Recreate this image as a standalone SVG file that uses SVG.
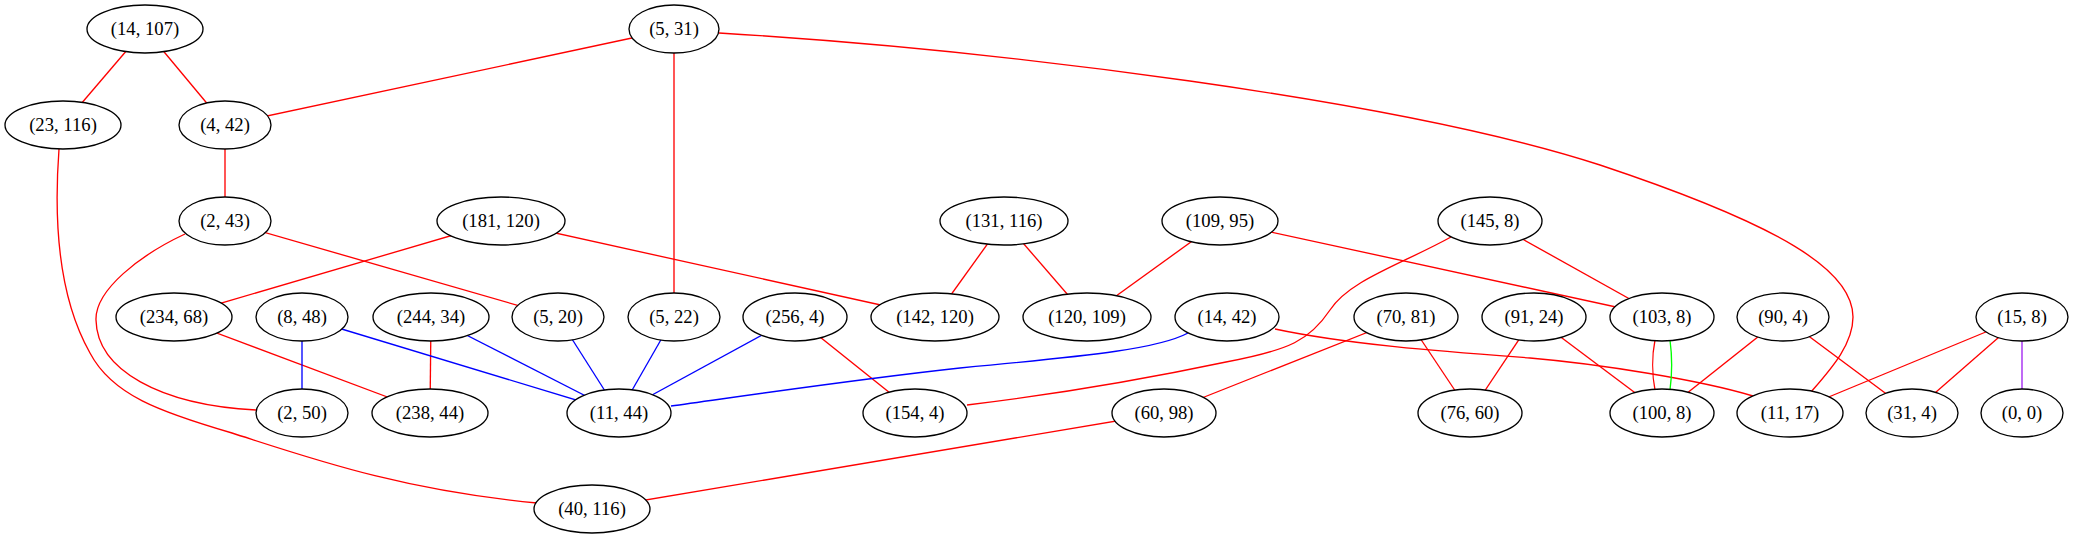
<svg xmlns="http://www.w3.org/2000/svg" width="2073" height="539" viewBox="0 0 2073 539">
<style>
.n ellipse{fill:#fff;stroke:#000;stroke-width:1.33}
.n text{font-family:"Liberation Serif","Times New Roman",serif;font-size:18.67px;text-anchor:middle;fill:#000}
#edges path,#edges line{fill:none;stroke-width:1.33}
.r{stroke:#ff0000}
.b{stroke:#0000ff}
.g{stroke:#00ff00}
.p{stroke:#a020f0}
</style>
<rect width="2073" height="539" fill="#fff"/>
<g id="edges">
<line class="r" x1="145" y1="29" x2="63" y2="125"/>
<line class="r" x1="145" y1="29" x2="225" y2="125"/>
<line class="r" x1="674" y1="29" x2="225" y2="125"/>
<line class="r" x1="674" y1="29" x2="674" y2="317"/>
<path class="r" d="M719,33 C1000,50 1400,100 1600,165 C1780,225 1853,270 1853,317 C1853,345 1830,370 1811,392"/>
<line class="r" x1="225" y1="125" x2="225" y2="221"/>
<path class="r" d="M59,149 C53,230 60,300 90,353 C112,395 160,412 232,433 C310,458 400,490 537,503"/>
<path class="r" d="M185,234 C140,255 95,290 96,320 C97,370 160,405 256,410"/>
<line class="r" x1="225" y1="221" x2="558" y2="317"/>
<line class="r" x1="501" y1="221" x2="174" y2="317"/>
<line class="r" x1="501" y1="221" x2="935" y2="317"/>
<line class="r" x1="1004" y1="221" x2="935" y2="317"/>
<line class="r" x1="1004" y1="221" x2="1087" y2="317"/>
<line class="r" x1="1220" y1="221" x2="1087" y2="317"/>
<line class="r" x1="1220" y1="221" x2="1662" y2="317"/>
<path class="r" d="M1451,237 C1400,265 1350,280 1330,310 C1310,340 1290,350 1226,362 C1150,378 1050,395 967,405"/>
<line class="r" x1="1490" y1="221" x2="1662" y2="317"/>
<line class="r" x1="174" y1="317" x2="430" y2="413"/>
<line class="r" x1="431" y1="317" x2="430" y2="413"/>
<line class="r" x1="795" y1="317" x2="915" y2="413"/>
<path class="r" d="M1275,329 C1350,345 1450,352 1530,358 C1600,364 1700,380 1753,396"/>
<line class="r" x1="1406" y1="317" x2="1164" y2="413"/>
<line class="r" x1="1406" y1="317" x2="1470" y2="413"/>
<line class="r" x1="1534" y1="317" x2="1470" y2="413"/>
<line class="r" x1="1534" y1="317" x2="1662" y2="413"/>
<path class="r" d="M1655,340 C1652,355 1652,375 1655,390"/>
<path class="g" d="M1670,340 C1672,355 1672,375 1670,390"/>
<line class="r" x1="1783" y1="317" x2="1662" y2="413"/>
<line class="r" x1="1783" y1="317" x2="1912" y2="413"/>
<line class="r" x1="2022" y1="317" x2="1790" y2="413"/>
<line class="r" x1="2022" y1="317" x2="1912" y2="413"/>
<line class="r" x1="1164" y1="413" x2="592" y2="509"/>
<line class="b" x1="302" y1="317" x2="302" y2="413"/>
<line class="b" x1="302" y1="317" x2="619" y2="413"/>
<line class="b" x1="431" y1="317" x2="619" y2="413"/>
<line class="b" x1="558" y1="317" x2="619" y2="413"/>
<line class="b" x1="674" y1="317" x2="619" y2="413"/>
<line class="b" x1="795" y1="317" x2="619" y2="413"/>
<path class="b" d="M1188,333 C1160,348 1100,355 960,368 C850,380 730,398 671,406"/>
<line class="p" x1="2022" y1="317" x2="2022" y2="413"/>
</g>
<g id="n14_107" class="n"><ellipse cx="145" cy="29" rx="58" ry="24"/><text x="145" y="35">(14, 107)</text></g>
<g id="n5_31" class="n"><ellipse cx="674" cy="29" rx="45" ry="24"/><text x="674" y="35">(5, 31)</text></g>
<g id="n23_116" class="n"><ellipse cx="63" cy="125" rx="58" ry="24"/><text x="63" y="131">(23, 116)</text></g>
<g id="n4_42" class="n"><ellipse cx="225" cy="125" rx="46" ry="24"/><text x="225" y="131">(4, 42)</text></g>
<g id="n2_43" class="n"><ellipse cx="225" cy="221" rx="46" ry="24"/><text x="225" y="227">(2, 43)</text></g>
<g id="n181_120" class="n"><ellipse cx="501" cy="221" rx="64" ry="24"/><text x="501" y="227">(181, 120)</text></g>
<g id="n131_116" class="n"><ellipse cx="1004" cy="221" rx="64" ry="24"/><text x="1004" y="227">(131, 116)</text></g>
<g id="n109_95" class="n"><ellipse cx="1220" cy="221" rx="58" ry="24"/><text x="1220" y="227">(109, 95)</text></g>
<g id="n145_8" class="n"><ellipse cx="1490" cy="221" rx="52" ry="24"/><text x="1490" y="227">(145, 8)</text></g>
<g id="n234_68" class="n"><ellipse cx="174" cy="317" rx="58" ry="24"/><text x="174" y="323">(234, 68)</text></g>
<g id="n8_48" class="n"><ellipse cx="302" cy="317" rx="46" ry="24"/><text x="302" y="323">(8, 48)</text></g>
<g id="n244_34" class="n"><ellipse cx="431" cy="317" rx="58" ry="24"/><text x="431" y="323">(244, 34)</text></g>
<g id="n5_20" class="n"><ellipse cx="558" cy="317" rx="46" ry="24"/><text x="558" y="323">(5, 20)</text></g>
<g id="n5_22" class="n"><ellipse cx="674" cy="317" rx="46" ry="24"/><text x="674" y="323">(5, 22)</text></g>
<g id="n256_4" class="n"><ellipse cx="795" cy="317" rx="52" ry="24"/><text x="795" y="323">(256, 4)</text></g>
<g id="n142_120" class="n"><ellipse cx="935" cy="317" rx="64" ry="24"/><text x="935" y="323">(142, 120)</text></g>
<g id="n120_109" class="n"><ellipse cx="1087" cy="317" rx="64" ry="24"/><text x="1087" y="323">(120, 109)</text></g>
<g id="n14_42" class="n"><ellipse cx="1227" cy="317" rx="52" ry="24"/><text x="1227" y="323">(14, 42)</text></g>
<g id="n70_81" class="n"><ellipse cx="1406" cy="317" rx="52" ry="24"/><text x="1406" y="323">(70, 81)</text></g>
<g id="n91_24" class="n"><ellipse cx="1534" cy="317" rx="52" ry="24"/><text x="1534" y="323">(91, 24)</text></g>
<g id="n103_8" class="n"><ellipse cx="1662" cy="317" rx="52" ry="24"/><text x="1662" y="323">(103, 8)</text></g>
<g id="n90_4" class="n"><ellipse cx="1783" cy="317" rx="46" ry="24"/><text x="1783" y="323">(90, 4)</text></g>
<g id="n15_8" class="n"><ellipse cx="2022" cy="317" rx="46" ry="24"/><text x="2022" y="323">(15, 8)</text></g>
<g id="n2_50" class="n"><ellipse cx="302" cy="413" rx="46" ry="24"/><text x="302" y="419">(2, 50)</text></g>
<g id="n238_44" class="n"><ellipse cx="430" cy="413" rx="58" ry="24"/><text x="430" y="419">(238, 44)</text></g>
<g id="n11_44" class="n"><ellipse cx="619" cy="413" rx="52" ry="24"/><text x="619" y="419">(11, 44)</text></g>
<g id="n154_4" class="n"><ellipse cx="915" cy="413" rx="52" ry="24"/><text x="915" y="419">(154, 4)</text></g>
<g id="n60_98" class="n"><ellipse cx="1164" cy="413" rx="52" ry="24"/><text x="1164" y="419">(60, 98)</text></g>
<g id="n76_60" class="n"><ellipse cx="1470" cy="413" rx="52" ry="24"/><text x="1470" y="419">(76, 60)</text></g>
<g id="n100_8" class="n"><ellipse cx="1662" cy="413" rx="52" ry="24"/><text x="1662" y="419">(100, 8)</text></g>
<g id="n11_17" class="n"><ellipse cx="1790" cy="413" rx="53" ry="24"/><text x="1790" y="419">(11, 17)</text></g>
<g id="n31_4" class="n"><ellipse cx="1912" cy="413" rx="46" ry="24"/><text x="1912" y="419">(31, 4)</text></g>
<g id="n0_0" class="n"><ellipse cx="2022" cy="413" rx="41" ry="24"/><text x="2022" y="419">(0, 0)</text></g>
<g id="n40_116" class="n"><ellipse cx="592" cy="509" rx="58" ry="24"/><text x="592" y="515">(40, 116)</text></g>
</svg>
